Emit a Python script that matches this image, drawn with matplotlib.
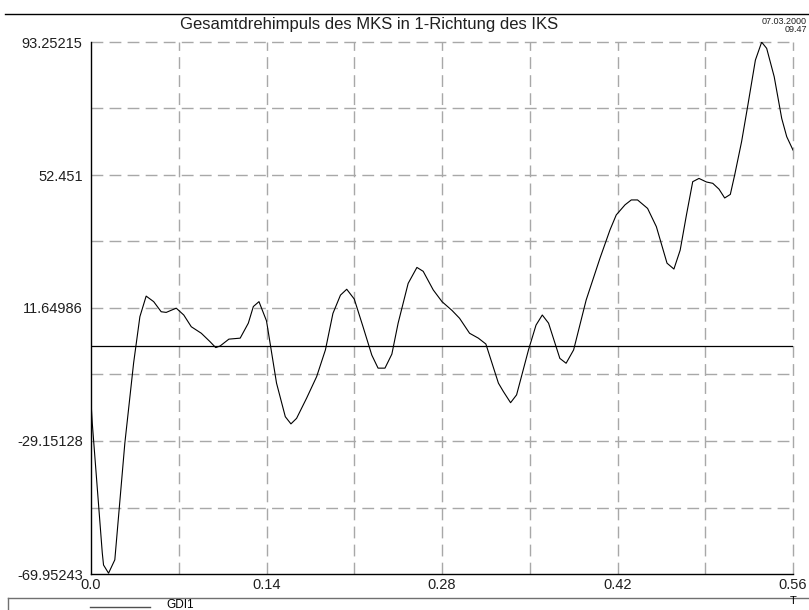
import matplotlib
matplotlib.use("Agg")
import matplotlib.pyplot as plt
from matplotlib.lines import Line2D
import numpy as np

plt.rcParams['font.family'] = ['Liberation Sans', 'DejaVu Sans']
plt.rcParams['lines.scale_dashes'] = False

title = "Gesamtdrehimpuls des MKS in 1-Richtung des IKS"
date_text = "07.03.2000"
time_text = "09.47"
x_axis_name = "T"
series_name = "GDI1"

y_min = -69.95243
y_max = 93.25215
y_tick_values = [93.25215, 52.451, 11.64986, -29.15128, -69.95243]
y_tick_labels = ["93.25215", "52.451", "11.64986", "-29.15128", "-69.95243"]
x_tick_values = [0.0, 0.14, 0.28, 0.42, 0.56]
x_tick_labels = ["0.0", "0.14", "0.28", "0.42", "0.56"]

t = [0.000, 0.001, 0.009, 0.010, 0.014, 0.019, 0.027, 0.034, 0.039, 0.044,
     0.050, 0.056, 0.060, 0.068, 0.074, 0.080, 0.088, 0.095, 0.0995, 0.103,
     0.110, 0.119, 0.1255, 0.1295, 0.134, 0.140, 0.148, 0.155, 0.1595, 0.164,
     0.172, 0.180, 0.187, 0.193, 0.199, 0.204, 0.210, 0.217, 0.224, 0.229,
     0.2345, 0.240, 0.245, 0.253, 0.260, 0.265, 0.273, 0.280, 0.288, 0.294,
     0.302, 0.309, 0.315, 0.325, 0.329, 0.3347, 0.3395, 0.349, 0.355, 0.360,
     0.365, 0.374, 0.379, 0.385, 0.395, 0.406, 0.414, 0.419, 0.426, 0.431,
     0.436, 0.444, 0.451, 0.4595, 0.465, 0.470, 0.475, 0.480, 0.485, 0.491,
     0.496, 0.501, 0.5055, 0.510, 0.5135, 0.519, 0.524, 0.530, 0.535, 0.539,
     0.545, 0.551, 0.555, 0.560]
gdi1 = [-17.1, -23.6, -63.5, -67.2, -69.7, -65.6, -29.8, -5.2, 9.0, 15.3,
        13.6, 10.5, 10.3, 11.6, 9.5, 5.9, 3.9, 1.3, -0.5, 0.0,
        2.1, 2.4, 7.0, 12.1, 13.6, 7.7, -11.4, -21.7, -23.9, -22.2,
        -16.0, -9.4, -1.2, 10.0, 15.6, 17.4, 14.4, 5.9, -2.8, -6.8,
        -6.8, -2.5, 7.0, 19.2, 24.1, 22.9, 17.2, 13.6, 10.9, 8.5,
        3.9, 2.4, 0.6, -11.4, -14.0, -17.4, -15.0, -1.2, 6.4, 9.5,
        7.0, -3.8, -5.3, -1.2, 14.1, 26.9, 35.6, 40.2, 43.3, 44.8,
        44.8, 42.2, 36.6, 25.4, 23.6, 29.4, 40.2, 50.4, 51.4, 50.3,
        49.9, 48.1, 45.4, 46.5, 52.5, 62.7, 73.9, 87.7, 93.2, 91.3,
        82.6, 69.8, 64.2, 60.1]

W, H = 809, 610
fig = plt.figure(figsize=(W / 100, H / 100), dpi=100)
fig.patch.set_facecolor('white')

ax_l, ax_r, ax_t, ax_b = 91, 793, 42, 574
ax = fig.add_axes([ax_l / W, 1 - ax_b / H, (ax_r - ax_l) / W, (ax_b - ax_t) / H])
ax.set_xlim(0, 0.56)
ax.set_ylim(y_min, y_max)
for s in ['top', 'right']:
    ax.spines[s].set_visible(False)
for s in ['left', 'bottom']:
    ax.spines[s].set_linewidth(1.0)
    ax.spines[s].set_color('black')

grid_kw = dict(color='#a8a8a8', linewidth=1.0, dashes=(8.5, 4.5), clip_on=False, zorder=1)
for xv in np.arange(1, 9) * 0.07:
    ax.axvline(xv, **grid_kw)
for yv in y_min + np.arange(1, 9) * (y_max - y_min) / 8:
    ax.axhline(yv, **grid_kw)

ax.axhline(0, color='black', linewidth=0.9, zorder=2)
ax.plot(t, gdi1, color='black', linewidth=0.8, zorder=3)

ax.set_xticks(x_tick_values)
ax.set_xticklabels(x_tick_labels)
ax.set_yticks(y_tick_values)
ax.set_yticklabels(y_tick_labels)
ax.tick_params(length=0, labelsize=10.5, pad=6, colors='#202020')
ax.tick_params(axis='x', pad=3)

fig.text(369 / W, 1 - 25 / H, title, ha='center', va='center', fontsize=12, color='#202020')
fig.text(807 / W, 1 - 22 / H, date_text, ha='right', va='center', fontsize=6.5, color='#202020')
fig.text(807 / W, 1 - 29.5 / H, time_text, ha='right', va='center', fontsize=6.5, color='#202020')
fig.text(793 / W, 1 - 601 / H, x_axis_name, ha='center', va='center', fontsize=8)

fig.add_artist(Line2D([5 / W, 1], [1 - 14 / H, 1 - 14 / H], color='black', linewidth=1.0))
fig.add_artist(Line2D([8 / W, 1], [1 - 598 / H, 1 - 598 / H], color='#707070', linewidth=1.0))
fig.add_artist(Line2D([8 / W, 8 / W], [1 - 598 / H, 0], color='#707070', linewidth=1.0))
fig.add_artist(Line2D([90 / W, 150 / W], [1 - 607 / H, 1 - 607 / H], color='#505050', linewidth=1.0))
fig.text(166 / W, 1 - 605 / H, series_name, ha='left', va='center', fontsize=8.5)

fig.savefig("out.png", dpi=100, facecolor='white')
